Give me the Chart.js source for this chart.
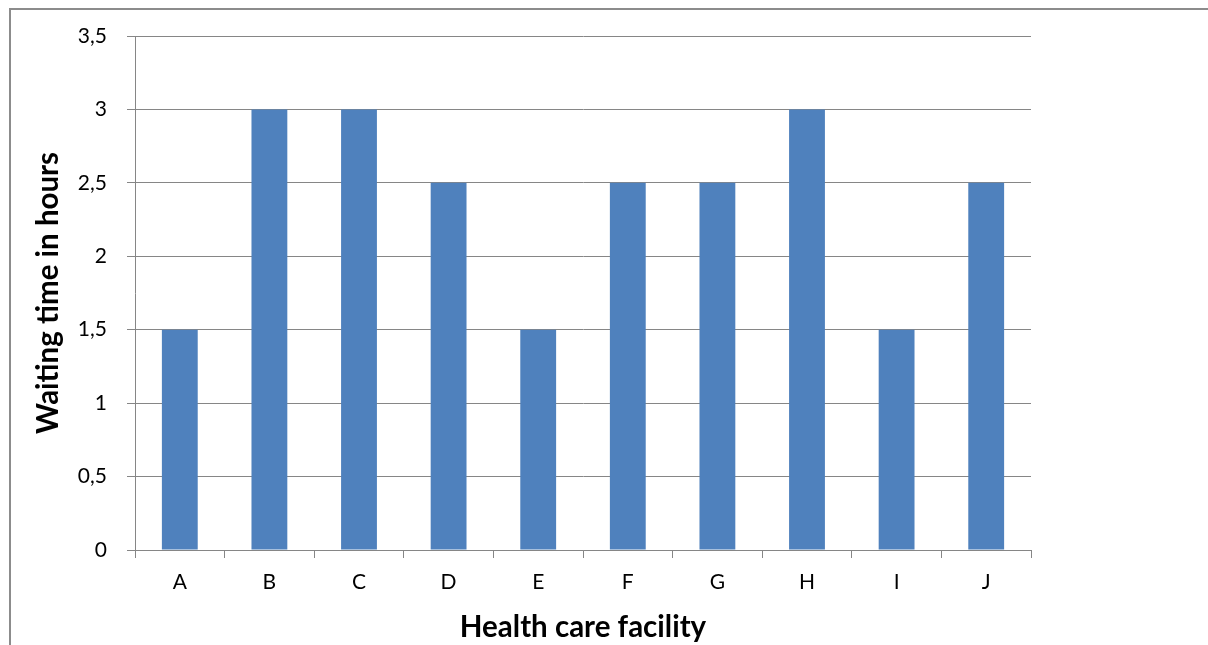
<!DOCTYPE html>
<html>
<head>
<meta charset="utf-8">
<script src="https://cdn.jsdelivr.net/npm/chart.js@4/dist/chart.umd.min.js"></script>
<style>
  html, body { margin: 0; padding: 0; background: #fff; }
  #wrap { position: relative; width: 1208px; height: 645px; }
</style>
</head>
<body>
<div id="wrap"><canvas id="barChart"></canvas></div>
<script>
var facilities = ['A', 'B', 'C', 'D', 'E', 'F', 'G', 'H', 'I', 'J'];
var waitingHours = [1.5, 3, 3, 2.5, 1.5, 2.5, 2.5, 3, 1.5, 2.5];
var yTicks = [0, 0.5, 1, 1.5, 2, 2.5, 3, 3.5];

document.addEventListener("DOMContentLoaded", function() {

    // thin frame on the top and left edge, like the cropped original
    var framePlugin = {
        id: 'frame',
        beforeDraw: function(chart) {
            var c = chart.ctx;
            c.save();
            c.strokeStyle = '#8c8c8c';
            c.lineWidth = 2;
            c.beginPath();
            c.moveTo(10, 645);
            c.lineTo(10, 9);
            c.lineTo(1208, 9);
            c.stroke();
            c.restore();
        }
    };

    var ctx = document.getElementById('barChart').getContext('2d');
    var barChart = new Chart(ctx, {
        type: 'bar',
        data: {
            labels: facilities,
            datasets: [{
                label: 'Waiting time',
                data: waitingHours,
                backgroundColor: '#4f81bd',
                categoryPercentage: 1,
                barPercentage: 0.4
            }]
        },
        options: {
            responsive: true,
            maintainAspectRatio: false,
            animation: false,
            layout: { padding: { left: 0, top: 36, right: 177, bottom: 0 } },
            plugins: {
                legend: { display: false },
                tooltip: { enabled: false }
            },
            scales: {
                x: {
                    afterFit: function(scale) { scale.height = 95; },
                    grid: {
                        offset: true,
                        drawOnChartArea: false,
                        tickLength: 8,
                        color: '#868686'
                    },
                    border: { color: '#868686', width: 1 },
                    ticks: {
                        color: '#000',
                        padding: 12,
                        font: { family: 'Lato', size: 21 }
                    },
                    title: {
                        display: true,
                        text: 'Health care facility',
                        color: '#000',
                        padding: { top: 0, bottom: 0 },
                        font: { family: 'Lato', size: 29.5, weight: 'bold' }
                    }
                },
                y: {
                    min: 0,
                    max: 3.5,
                    afterFit: function(scale) { scale.width = 135; },
                    afterBuildTicks: function(scale) {
                        scale.ticks = yTicks.map(function(v) { return { value: v }; });
                    },
                    grid: {
                        tickLength: 8,
                        color: '#868686'
                    },
                    border: { color: '#868686', width: 1 },
                    ticks: {
                        color: '#000',
                        padding: 20,
                        font: { family: 'Lato', size: 21 },
                        callback: function(v) { return String(v).replace('.', ','); }
                    },
                    title: {
                        display: true,
                        text: 'Waiting time in hours',
                        color: '#000',
                        padding: { top: 31, bottom: 0 },
                        font: { family: 'Lato', size: 29.5, weight: 'bold' }
                    }
                }
            }
        },
        plugins: [framePlugin]
    });
});
</script>
</body>
</html>
